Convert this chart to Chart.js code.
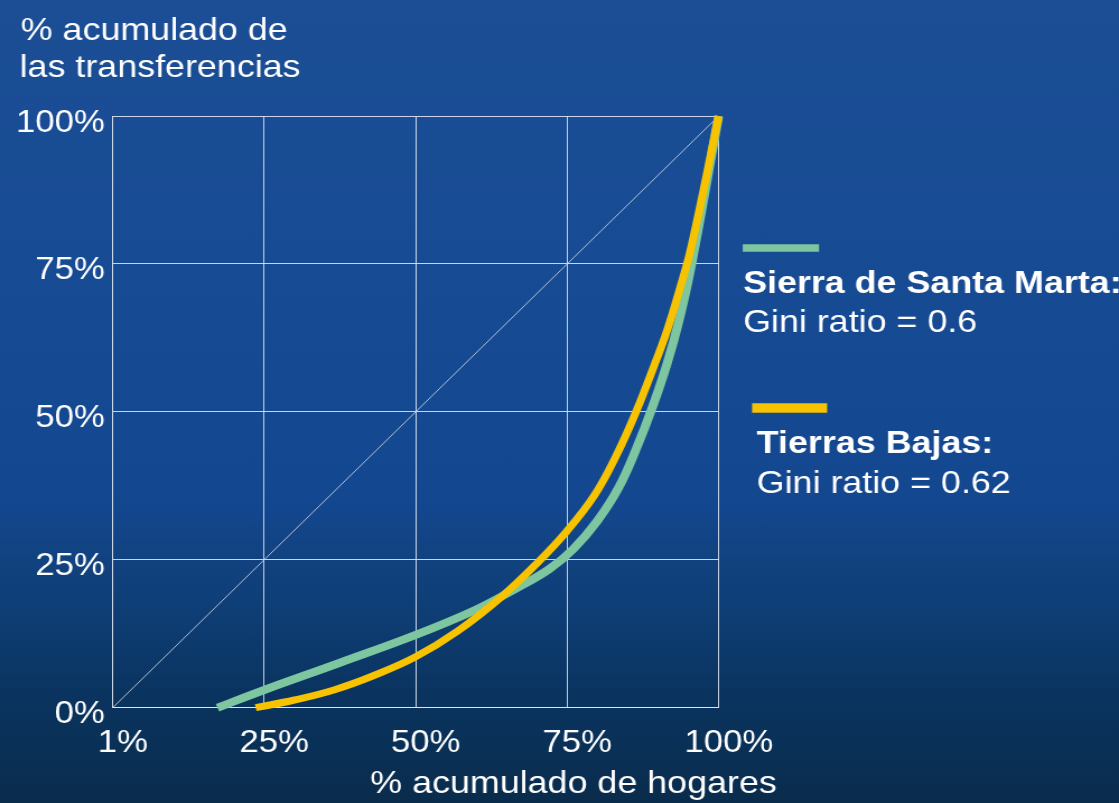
<!DOCTYPE html>
<html>
<head>
<meta charset="utf-8">
<script src="https://cdn.jsdelivr.net/npm/chart.js@4.4.1/dist/chart.umd.min.js"></script>
<style>
  html, body { margin: 0; padding: 0; overflow: hidden; }
  body {
    width: 1119px; height: 803px;
    background: linear-gradient(180deg, #1b4e95 0%, #174b93 30%, #134790 62%, #11427f 70%, #0e3d74 77%, #0a3460 86%, #092c4c 100%);
  }
  #c { display: block; transform: scaleX(1.12012); transform-origin: 0 0; }
</style>
</head>
<body>
<canvas id="c" width="999" height="803"></canvas>
<script>
// ---- data ----
const xTickValues = [0, 25, 50, 75, 100];
const xTickLabels = ['1%', '25%', '50%', '75%', '100%'];
const yTickValues = [0, 25, 50, 75, 100];
const yTickLabels = ['0%', '25%', '50%', '75%', '100%'];

const seriesNames = ['Sierra de Santa Marta:', 'Tierras Bajas:'];
const giniLabels = ['Gini ratio = 0.6', 'Gini ratio = 0.62'];

const sierraX = [17.3, 25, 37.5, 50, 60, 67, 72, 76, 80, 83.5, 86.5, 89, 91.5, 93.5, 95.5, 100];
const sierraY = [0, 3.0, 7.6, 12.3, 16.6, 20.4, 23.4, 26.8, 31.6, 37.2, 44.0, 50.6, 58.2, 65.6, 74.8, 100];

const bajasX = [23.6, 30, 36.5, 43, 50, 57, 64, 70, 75, 79.5, 83, 86.2, 89.2, 91.5, 93.5, 95.5, 100];
const bajasY = [0, 1.3, 3.0, 5.4, 8.6, 13.0, 18.6, 24.4, 29.9, 35.9, 42.4, 49.6, 57.4, 63.8, 70.5, 78.0, 100];

const equalityX = [0, 100];
const equalityY = [0, 100];

const yTitleLines = ['% acumulado de', 'las transferencias'];
const xTitle = '% acumulado de hogares';

// ---- styles ----
const GREEN = '#7dc6a0';
const YELLOW = '#f7c300';
const GRID = 'rgba(228,232,242,0.88)';
const FONT = "'Liberation Sans', Arial, sans-serif";

function pts(xs, ys) { return xs.map((x, i) => ({ x: x, y: ys[i] })); }

const textPlugin = {
  id: 'texts',
  afterDraw(chart) {
    const ctx = chart.ctx;
    ctx.save();
    ctx.fillStyle = '#ffffff';
    ctx.textBaseline = 'alphabetic';
    // y-axis title
    ctx.font = '32px ' + FONT;
    ctx.textAlign = 'left';
    ctx.fillText(yTitleLines[0], 18.5, 40);
    ctx.fillText(yTitleLines[1], 17.5, 77);
    // x-axis title
    ctx.textAlign = 'center';
    ctx.fillText(xTitle, 512, 793);
    // legend
    ctx.textAlign = 'left';
    ctx.lineCap = 'butt';
    ctx.strokeStyle = GREEN;
    ctx.lineWidth = 7.5;
    ctx.beginPath(); ctx.moveTo(663.1, 248); ctx.lineTo(731.2, 248); ctx.stroke();
    ctx.font = 'bold 32px ' + FONT;
    ctx.fillText(seriesNames[0], 663.4, 293);
    ctx.font = '32px ' + FONT;
    ctx.fillText(giniLabels[0], 663.4, 332);

    ctx.strokeStyle = YELLOW;
    ctx.lineWidth = 9.5;
    ctx.beginPath(); ctx.moveTo(671.4, 408); ctx.lineTo(738.4, 408); ctx.stroke();
    ctx.font = 'bold 32px ' + FONT;
    ctx.fillText(seriesNames[1], 675.6, 452.7);
    ctx.font = '32px ' + FONT;
    ctx.fillText(giniLabels[1], 675.6, 493.3);
    ctx.restore();
  }
};

new Chart(document.getElementById('c'), {
  type: 'scatter',
  data: {
    datasets: [
      {
        label: 'equality',
        data: pts(equalityX, equalityY),
        showLine: true,
        borderColor: 'rgba(205,212,225,0.85)',
        borderWidth: 1,
        pointRadius: 0,
        order: 3
      },
      {
        label: seriesNames[0],
        data: pts(sierraX, sierraY),
        showLine: true,
        borderColor: GREEN,
        borderWidth: 8,
        pointRadius: 0,
        tension: 0.4,
        borderCapStyle: 'butt',
        borderJoinStyle: 'round',
        clip: false,
        order: 2
      },
      {
        label: seriesNames[1],
        data: pts(bajasX, bajasY),
        showLine: true,
        borderColor: YELLOW,
        borderWidth: 7,
        pointRadius: 0,
        tension: 0.4,
        borderCapStyle: 'butt',
        borderJoinStyle: 'round',
        clip: false,
        order: 1
      }
    ]
  },
  options: {
    responsive: false,
    animation: false,
    devicePixelRatio: 1,
    layout: { padding: { left: 0, top: 116, right: 357.4, bottom: 0 } },
    plugins: { legend: { display: false }, tooltip: { enabled: false } },
    scales: {
      x: {
        type: 'linear', min: 0, max: 100,
        afterBuildTicks: (s) => { s.ticks = xTickValues.map(v => ({ value: v })); },
        afterFit: (s) => { s.height = 95.3; },
        grid: { color: GRID, lineWidth: 1, drawTicks: false },
        border: { color: GRID, width: 1 },
        ticks: {
          color: '#ffffff',
          font: { family: FONT, size: 31 },
          padding: 17,
          labelOffset: 9,
          maxRotation: 0,
          callback: (v) => xTickLabels[xTickValues.indexOf(v)]
        }
      },
      y: {
        type: 'linear', min: 0, max: 100,
        afterBuildTicks: (s) => { s.ticks = yTickValues.map(v => ({ value: v })); },
        afterFit: (s) => { s.width = 100.6; },
        grid: { color: GRID, lineWidth: 1, drawTicks: false },
        border: { color: GRID, width: 1 },
        ticks: {
          color: '#ffffff',
          font: { family: FONT, size: 31 },
          padding: 7,
          labelOffset: 7,
          callback: (v) => yTickLabels[yTickValues.indexOf(v)]
        }
      }
    }
  },
  plugins: [textPlugin]
});
</script>
</body>
</html>
